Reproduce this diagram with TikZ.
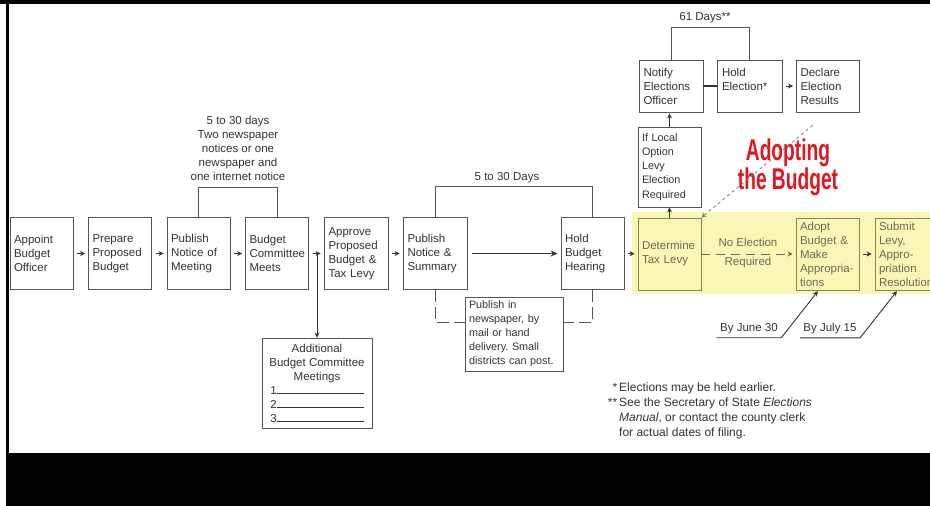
\documentclass[tikz,border=0pt]{standalone}
\usepackage{fontspec}
\setmainfont{Liberation Sans}
\newfontfamily\headfont[FakeStretch=0.64]{Liberation Sans}
\usetikzlibrary{arrows.meta}
\definecolor{boxline}{HTML}{555555}
\definecolor{txtgray}{HTML}{333333}
\definecolor{hilite}{HTML}{FAF6B6}
\definecolor{oliveline}{HTML}{8C8650}
\definecolor{olivetxt}{HTML}{6E6B55}
\definecolor{adoptred}{HTML}{E3161D}
\frenchspacing

\begin{document}
\begin{tikzpicture}[x=1pt,y=-1pt,
    >={Stealth[length=5pt,width=5pt]},
    every node/.style={text=txtgray, font=\fontsize{11.5}{14}\selectfont},
    stepbox/.style={draw=boxline, line width=0.8pt, minimum width=63pt, minimum height=72pt,
        text width=55pt, inner xsep=4pt, inner ysep=2pt, align=left},
    olivebox/.style={draw=oliveline, text=olivetxt},
    nextarrow/.style={draw=txtgray, line width=1pt, shorten <=4pt, shorten >=3pt},
    bracket/.style={draw=boxline, line width=0.8pt},
    dateline/.style={draw=txtgray, line width=0.9pt}]

    % Frame of the screenshot
    \useasboundingbox (0,0) rectangle (930,506);
    \clip (0,0) rectangle (930,506);
    \fill[white] (0,0) rectangle (930,506);
    \fill[black] (0,0) rectangle (930,4);
    \fill[black] (6,0) rectangle (8.5,453);
    \fill[black] (6,453) rectangle (930,506);

    % Highlighted band
    \fill[hilite] (632,212) rectangle (930,294);

    % Main row of steps
    \node[stepbox] (appoint) at (41.5,253.5) {Appoint\\Budget\\Officer};
    \node[stepbox] (prepare) at (120,253.5) {Prepare\\Proposed\\Budget};
    \node[stepbox] (pubmeet) at (198.5,253.5) {Publish\\Notice of\\Meeting};
    \node[stepbox] (meets) at (277,253.5) {Budget\\Committee\\Meets};
    \node[stepbox, minimum width=64pt] (approve) at (356,253.5) {Approve\\Proposed\\Budget \&\\Tax Levy};
    \node[stepbox, minimum width=64pt] (pubsum) at (435,253.5) {Publish\\Notice \&\\Summary};
    \node[stepbox] (hearing) at (592.5,253.5) {Hold\\Budget\\Hearing};

    % Steps in the highlighted band
    \node[stepbox, olivebox] (levy) at (669.5,254) {Determine\\Tax Levy};
    \node[stepbox, olivebox] (adopt) at (827.5,254) {Adopt\\Budget \&\\Make\\Appropria-\\tions};
    \node[stepbox, olivebox] (submit) at (906.5,254) {Submit\\Levy,\\Appro-\\priation\\Resolution};

    % Election branch
    \node[stepbox, minimum height=80pt, font=\fontsize{10.8}{14.2}\selectfont] (option) at (669.5,167) {If Local\\Option\\Levy\\Election\\Required};
    \node[stepbox, minimum height=52pt, minimum width=64pt] (notify) at (671,86) {Notify\\Elections\\Officer};
    \node[stepbox, minimum height=52pt, minimum width=65pt] (holdel) at (749.5,86) {Hold\\Election*\\\mbox{}};
    \node[stepbox, minimum height=52pt, minimum width=62pt] (declare) at (828,86) {Declare\\Election\\Results};

    % Side boxes
    \node[draw=boxline, line width=0.8pt, minimum width=110pt, minimum height=90pt, align=center, inner sep=3pt] (extra) at (317,383)
        {Additional\\Budget Committee\\Meetings\\1\rule{87pt}{0.8pt}\\2\rule{87pt}{0.9pt}\\3\rule{87pt}{0.9pt}};
    \node[draw=boxline, line width=0.8pt, minimum width=98pt, minimum height=74pt, text width=90pt, inner xsep=4pt,
        align=left, font=\fontsize{10.8}{14}\selectfont] (paper) at (514,334)
        {Publish in\\newspaper, by\\mail or hand\\delivery. Small\\districts can post.};

    % Labels
    \node[align=center] (notice) at (238,148) {5 to 30 days\\Two newspaper\\notices or one\\newspaper and\\one internet notice};
    \node (hearlbl) at (507,178) {5 to 30 Days};
    \node (dayslbl) at (705,18) {61 Days**};
    \node[text=olivetxt] (noelec) at (748,242) {No Election};
    \node[text=olivetxt] (noreq) at (748,263) {Required};
    \node[align=center, text=adoptred, font=\headfont\bfseries\fontsize{30}{25}\selectfont] (title) at (788,167) {Adopting\\the Budget};
    \node (june) at (749,329) {By June 30};
    \node (july) at (830,329) {By July 15};

    % Arrows from step to step
    \foreach \a/\b in {appoint/prepare, prepare/pubmeet, pubmeet/meets, meets/approve,
        approve/pubsum, hearing/levy, adopt/submit, holdel/declare}
        \draw[->, nextarrow] (\a) -- (\b);
    \draw[-{Stealth[length=7pt,width=6pt]}, draw=txtgray, line width=1.5pt, shorten <=5pt, shorten >=3pt] (pubsum) -- (hearing);
    \draw[->, draw=txtgray, line width=1pt] (meets.east -| extra.north) -- (extra.north);
    \draw[->, draw=txtgray, line width=1pt] (levy.north) -- (option.south);
    \draw[->, draw=txtgray, line width=1pt, shorten >=1pt] (option.north) -- (option.north |- notify.south);
    \draw[draw=txtgray, line width=1.5pt] (notify) -- (holdel);
    \draw[->, dashed, draw=gray, line width=0.8pt, shorten <=20pt] (declare.south) -- (levy.north east);
    \draw[->, draw=olivetxt, line width=0.8pt, dash pattern=on 9pt off 6pt, shorten >=3pt] (levy) -- (adopt);

    % Brackets for waiting times
    \draw[bracket] (pubmeet.north) -- ++(0,-30) -| (meets.north);
    \draw[bracket] (pubsum.north) -- ++(0,-31) -| (hearing.north);
    \draw[bracket] (notify.north) -- ++(0,-32) -| (holdel.north);
    \draw[bracket, dash pattern=on 12pt off 5pt] (pubsum.south) |- ([yshift=12pt]paper.west);
    \draw[bracket, dash pattern=on 12pt off 5pt] (hearing.south) |- ([yshift=12pt]paper.east);

    % Deadlines
    \draw[->, dateline, shorten >=1pt] (june.south west) -- (june.south east) -- ([xshift=-9pt]adopt.south);
    \draw[->, dateline, shorten >=1pt] (july.south west) -- (july.south east) -- ([xshift=-9pt]submit.south);

    % Footnotes
    \node[anchor=north west, align=left, font=\fontsize{12}{15}\selectfont, inner sep=0pt] (notes) at (603,383)
        {\makebox[16pt][r]{*\,}Elections may be held earlier.\\
         \makebox[16pt][r]{**\,}See the Secretary of State \textit{Elections}\\
         \hspace*{16pt}\textit{Manual}, or contact the county clerk\\
         \hspace*{16pt}for actual dates of filing.};

\end{tikzpicture}
\end{document}
